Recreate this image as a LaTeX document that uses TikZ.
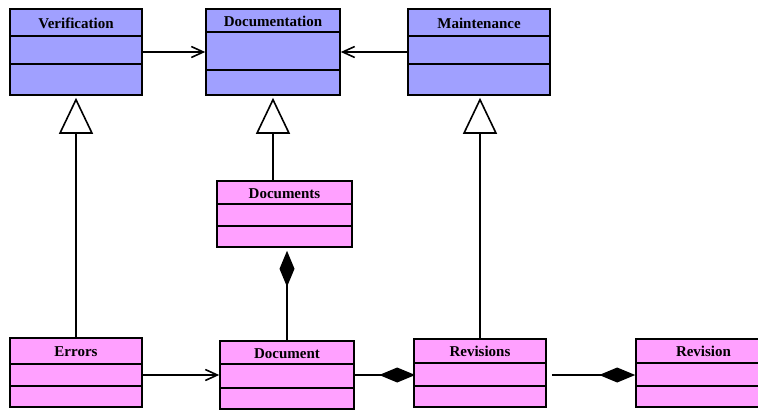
\documentclass[tikz,border=0pt]{standalone}
\usepackage{fontspec}
\setmainfont{Liberation Serif}
\usetikzlibrary{positioning,arrows.meta}
\definecolor{clsblue}{RGB}{160,160,255}
\definecolor{clspink}{RGB}{255,160,255}

\begin{document}
\begin{tikzpicture}[x=1pt,y=-1pt,line width=1.6pt,
  cls/.style={draw,inner sep=0pt,minimum height=86pt},
  blu/.style={cls,fill=clsblue},
  pnk/.style={cls,fill=clspink,minimum height=68pt},
  ttl/.style={font=\bfseries\fontsize{15}{18}\selectfont,inner sep=0pt},
  gen/.style={-{Triangle[length=36pt,width=34pt,fill=white]},shorten >=2pt},
  comp/.style={-{Diamond[length=36pt,width=15pt]}},
  assoc/.style={-{Straight Barb[length=12pt,width=11pt]}}]
\useasboundingbox (0,0) rectangle (758,410);
\node[blu,minimum width=132pt] (ver) at (76,52) {};
\node[blu,minimum width=134pt] (docn) at (273,52) {};
\node[blu,minimum width=142pt] (mnt) at (479,52) {};
\node[pnk,minimum width=135pt,minimum height=66pt] (docs) at (284.5,214) {};
\node[pnk,minimum width=132pt,minimum height=69pt] (err) at (76,372.5) {};
\node[pnk,minimum width=134pt] (doc) at (287,375) {};
\node[pnk,minimum width=132pt] (revs) at (480,373) {};
\node[pnk,minimum width=135pt] (rev) at (703.5,373) {};
% compartments and titles
\foreach \n/\t/\a/\b in {ver/Verification/28/56,docn/Documentation/24/62,
    mnt/Maintenance/28/56,docs/Documents/24/46,err/Errors/27/49,
    doc/Document/24/48,revs/Revisions/25/48,rev/Revision/25/48} {
  \node[ttl] at ([yshift=-\a*0.5pt-1pt]\n.north) {\t};
  \draw ([yshift=-\a pt]\n.north west) -- ([yshift=-\a pt]\n.north east);
  \draw ([yshift=-\b pt]\n.north west) -- ([yshift=-\b pt]\n.north east);
}
\draw[assoc] (ver) -- (docn);
\draw[assoc] (mnt) -- (docn);
\draw[assoc] (err.east |- doc) -- (doc);
\draw[gen] (err) -- (ver);
\draw[gen] (docs.north -| docn) -- (docn);
\draw[gen] (revs.north) -- (revs.north |- mnt.south);
\draw[comp,shorten >=3pt] (doc.north) -- (doc.north |- docs.south);
\draw[comp,shorten >=-2pt] (doc.east) -- (doc.east -| revs.west);
\draw[comp,shorten <=5pt] (revs.east |- doc) -- (rev.west |- doc);
\end{tikzpicture}
\end{document}
